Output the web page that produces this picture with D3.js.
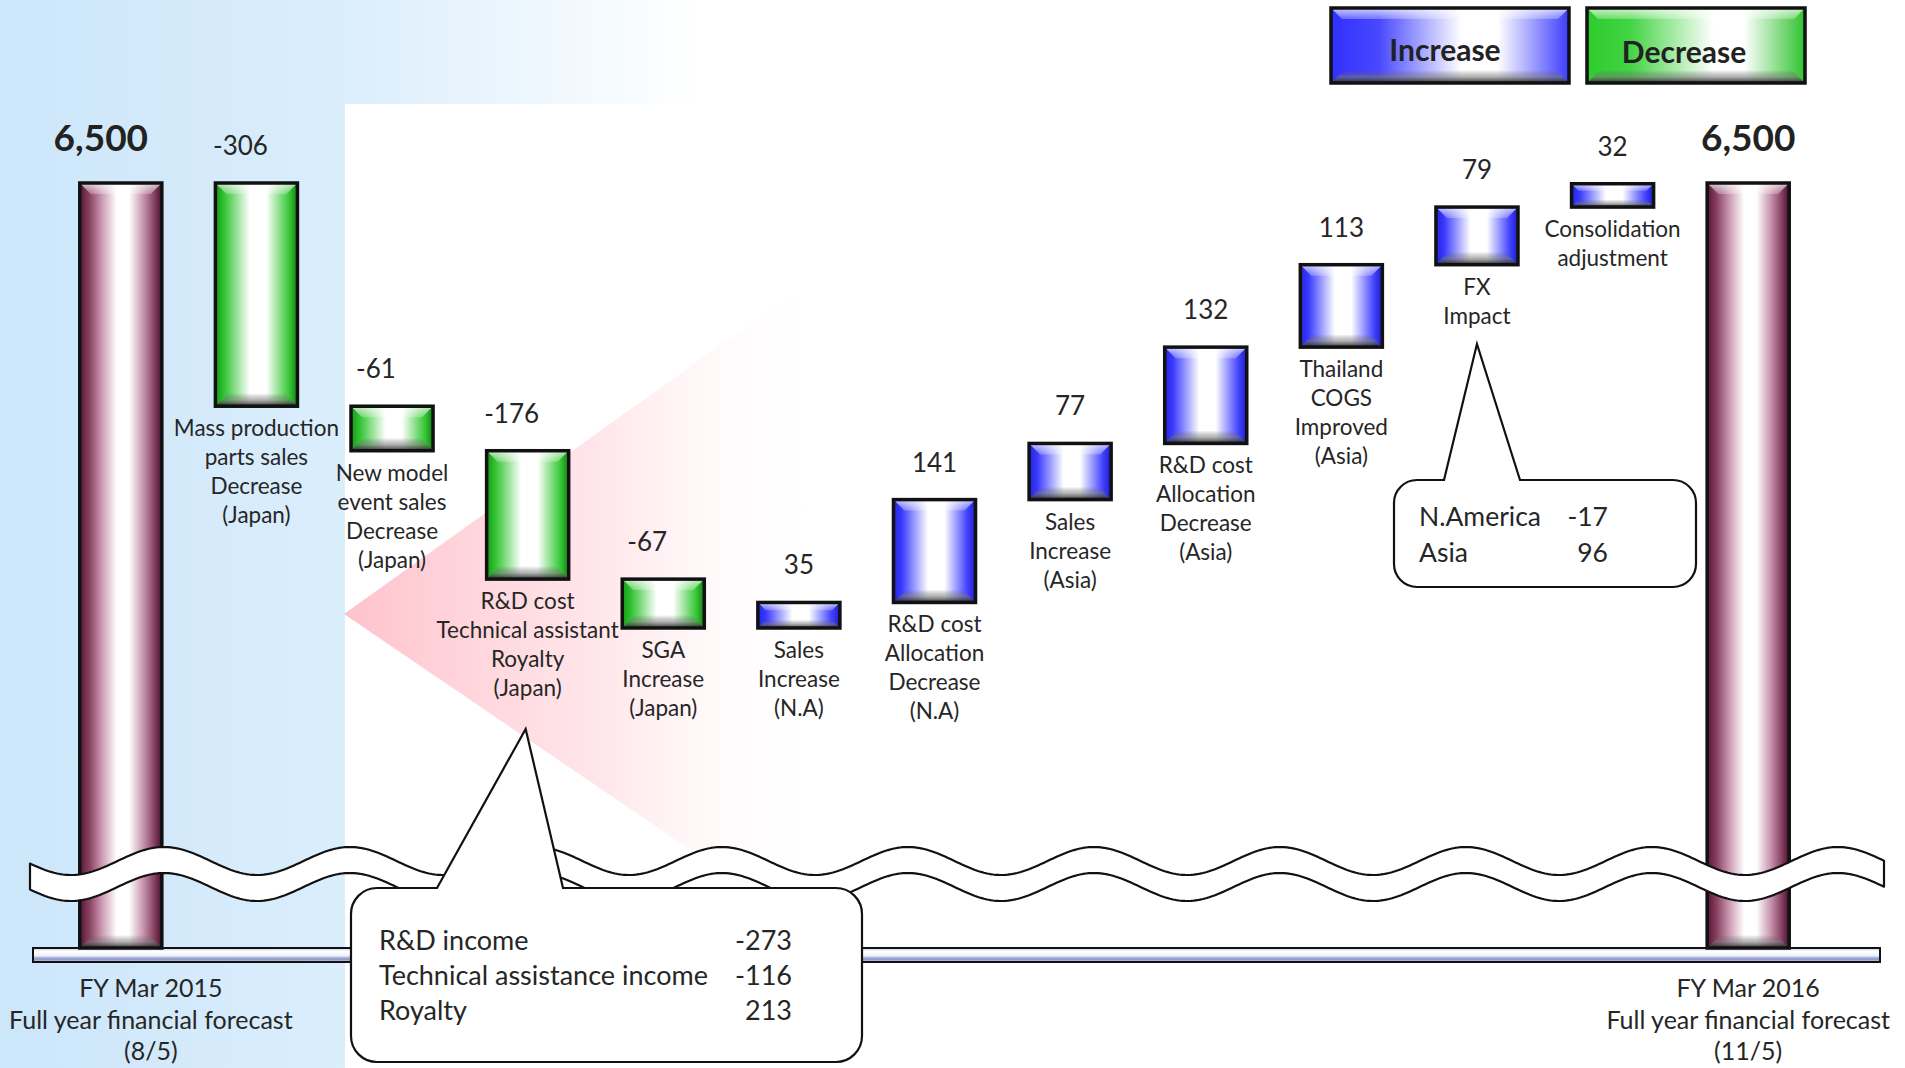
<!DOCTYPE html>
<html>
<head>
<meta charset="utf-8">
<script src="https://cdn.jsdelivr.net/npm/d3@7"></script>
<style>
  body { margin: 0; background: #fff; }
  svg { display: block; font-family: Lato, "Open Sans", sans-serif; }
</style>
</head>
<body>
<svg id="chart"></svg>
<script>
// ---- data ----
const startTotal = 6500;
const endTotal = 6500;
const stepValues = [-306, -61, -176, -67, 35, 141, 77, 132, 113, 79, 32];
const stepLabels = [
    ["Mass production", "parts sales", "Decrease", "(Japan)"],
    ["New model", "event sales", "Decrease", "(Japan)"],
    ["R&D cost", "Technical assistant", "Royalty", "(Japan)"],
    ["SGA", "Increase", "(Japan)"],
    ["Sales", "Increase", "(N.A)"],
    ["R&D cost", "Allocation", "Decrease", "(N.A)"],
    ["Sales", "Increase", "(Asia)"],
    ["R&D cost", "Allocation", "Decrease", "(Asia)"],
    ["Thailand", "COGS", "Improved", "(Asia)"],
    ["FX", "Impact"],
    ["Consolidation", "adjustment"]
];
const startCaption = ["FY Mar 2015", "Full year financial forecast", "(8/5)"];
const endCaption = ["FY Mar 2016", "Full year financial forecast", "(11/5)"];
const rdItems = ["R&D income", "Technical assistance income", "Royalty"];
const rdValues = [-273, -116, 213];
const fxItems = ["N.America", "Asia"];
const fxValues = [-17, 96];
const legendLabels = ["Increase", "Decrease"];

// ---- layout ----
const W = 1905, H = 1068;
const floorY = 948;

var svg = d3.select("#chart").attr("width", W).attr("height", H);
var defs = svg.append("defs");

function hGrad(id, stops) {
    var g = defs.append("linearGradient").attr("id", id)
        .attr("x1", 0).attr("x2", 1).attr("y1", 0).attr("y2", 0);
    stops.forEach(s => g.append("stop").attr("offset", s[0]).attr("stop-color", s[1])
        .attr("stop-opacity", s[2] == null ? 1 : s[2]));
}
function vGrad(id, stops) {
    var g = defs.append("linearGradient").attr("id", id)
        .attr("x1", 0).attr("x2", 0).attr("y1", 0).attr("y2", 1);
    stops.forEach(s => g.append("stop").attr("offset", s[0]).attr("stop-color", s[1])
        .attr("stop-opacity", s[2] == null ? 1 : s[2]));
}

hGrad("bgBlue", [[0, "#cce6fa"], [0.5, "#dbeefc"], [1, "#ffffff"]]);
hGrad("pinkFan", [[0, "#ffc2cb", 1], [0.55, "#ffe1e6", 0.8], [1, "#ffffff", 0]]);
hGrad("gBlue", [[0, "#2424e0"], [0.1, "#3a3aff"], [0.42, "#ffffff"], [0.62, "#ffffff"], [0.9, "#4242ff"], [1, "#1c1cc8"]]);
hGrad("gGreen", [[0, "#1a961a"], [0.1, "#2ec22e"], [0.42, "#ffffff"], [0.62, "#ffffff"], [0.9, "#36c836"], [1, "#168016"]]);
hGrad("gPink", [[0, "#581637"], [0.12, "#8a4263"], [0.27, "#cc9ab2"], [0.45, "#ffffff"], [0.6, "#ffffff"], [0.78, "#c690aa"], [0.92, "#7e3a5a"], [1, "#46102d"]]);
hGrad("gBlueLeg", [[0, "#3030ff"], [0.2, "#4848ff"], [0.55, "#ffffff"], [0.7, "#ffffff"], [1, "#3c3cff"]]);
hGrad("gGreenLeg", [[0, "#2ccc2c"], [0.2, "#44d444"], [0.58, "#ffffff"], [0.72, "#ffffff"], [1, "#2ec22e"]]);
vGrad("topHi", [[0, "#ffffff", 0.75], [1, "#ffffff", 0.25]]);
vGrad("botSh", [[0, "#555555", 0], [0.5, "#777777", 0.55], [1, "#222222", 0.95]]);
vGrad("platform", [[0, "#c4cce6"], [0.25, "#ffffff"], [0.55, "#eef1fa"], [0.78, "#8793c6"], [1, "#c8d0ea"]]);

// background
svg.append("rect").attr("width", 700).attr("height", H).attr("fill", "url(#bgBlue)");
svg.append("rect").attr("x", 345).attr("y", 104).attr("width", W - 345).attr("height", H - 104).attr("fill", "#fff");

// scales
var keys = ["start"].concat(stepValues.map((d, i) => "s" + i), ["end"]);
var x = d3.scaleBand().domain(keys).range([53, 1816]).paddingInner(0.395).paddingOuter(0.1975);
var y = d3.scaleLinear().domain([5890, 6500]).range([628, 183]);

// running totals
var rows = [];
var run = startTotal;
rows.push({ key: "start", kind: "total", top: startTotal, bottom: null, value: startTotal });
stepValues.forEach(function (v, i) {
    var from = run;
    run += v;
    rows.push({ key: "s" + i, kind: v < 0 ? "dec" : "inc", top: Math.max(from, run), bottom: Math.min(from, run), value: v, label: stepLabels[i] });
});
rows.push({ key: "end", kind: "total", top: endTotal, bottom: null, value: endTotal });

// spotlight fan behind the R&D bar
var fanX = 344, fanY = 614;
svg.append("path")
    .attr("d", `M${fanX},${fanY}L820,274L820,938Z`)
    .attr("fill", "url(#pinkFan)");

// platform
svg.append("rect").attr("x", 33).attr("y", floorY).attr("width", 1847).attr("height", 14)
    .attr("fill", "url(#platform)").attr("stroke", "#111").attr("stroke-width", 2);

function bevelBox(g, bx, by, bw, bh, fill) {
    var b = Math.min(11, bh * 0.3);
    g.append("rect").attr("x", bx).attr("y", by).attr("width", bw).attr("height", bh).attr("fill", fill);
    g.append("path")
        .attr("d", `M${bx},${by}L${bx + bw},${by}L${bx + bw - b},${by + b}L${bx + b},${by + b}Z`)
        .attr("fill", "url(#topHi)");
    var s = Math.min(13, bh * 0.32);
    g.append("path")
        .attr("d", `M${bx + s},${by + bh - s}L${bx + bw - s},${by + bh - s}L${bx + bw},${by + bh}L${bx},${by + bh}Z`)
        .attr("fill", "url(#botSh)");
    g.append("rect").attr("x", bx).attr("y", by).attr("width", bw).attr("height", bh)
        .attr("fill", "none").attr("stroke", "#111").attr("stroke-width", 3.5);
}

var fills = { total: "url(#gPink)", inc: "url(#gBlue)", dec: "url(#gGreen)" };
var barG = svg.append("g");
rows.forEach(function (d) {
    var top = y(d.top);
    var bottom = d.kind == "total" ? floorY : y(d.bottom);
    bevelBox(barG.append("g"), x(d.key), top, x.bandwidth(), bottom - top, fills[d.kind]);
});

// axis break band
var waveTop = function (px) { return 861 - 14 * Math.cos(2 * Math.PI * (px - 164) / 186); };
var xs = d3.range(30, 1887, 3);
var upper = xs.map(px => [px, waveTop(px)]);
var lower = xs.slice().reverse().map(px => [px, waveTop(px) + 26]);
svg.append("path")
    .attr("d", d3.line()(upper.concat(lower)) + "Z")
    .attr("fill", "#fff").attr("stroke", "#111").attr("stroke-width", 2.2).attr("stroke-linejoin", "round");

// value labels (plain hyphen for minus, thousands comma for totals)
var fmt = d3.formatLocale({ decimal: ".", thousands: ",", grouping: [3], currency: ["", ""], minus: "-" }).format(",");
svg.append("g").selectAll("text")
    .data(rows)
    .join("text")
    .attr("x", d => x(d.key) + x.bandwidth() / 2)
    .attr("dx", d => d.key == "start" ? -20 : (d.value < 0 ? -16 : 0))
    .attr("y", d => y(d.top) - (d.kind == "total" ? 32 : 28))
    .attr("text-anchor", "middle")
    .attr("fill", d => d.kind == "total" ? "#222" : "#262626")
    .style("font-size", d => d.kind == "total" ? "37px" : "26px")
    .style("font-weight", d => d.kind == "total" ? "bold" : "normal")
    .text(d => fmt(d.value));

// category labels under each step
var catG = svg.append("g").style("font-size", "22.5px").attr("fill", "#262626");
rows.filter(d => d.kind != "total").forEach(function (d) {
    var t = catG.append("text")
        .attr("text-anchor", "middle")
        .attr("y", y(d.bottom) + 30);
    d.label.forEach(function (line, i) {
        t.append("tspan").attr("x", x(d.key) + x.bandwidth() / 2).attr("dy", i ? 29 : 0).text(line);
    });
});

// captions under the totals, kept inside the page
function caption(lines, key) {
    var cx = x(key) + x.bandwidth() / 2;
    var t = svg.append("text").attr("text-anchor", "middle").attr("y", 997)
        .style("font-size", "25px").attr("fill", "#262626");
    lines.forEach(function (line, i) {
        t.append("tspan").attr("x", cx).attr("dy", i ? 31.5 : 0).text(line);
    });
    var w = t.node().getBBox().width;
    cx = Math.max(w / 2 + 9, Math.min(W - w / 2 - 14, cx));
    t.selectAll("tspan").attr("x", cx);
}
caption(startCaption, "start");
caption(endCaption, "end");

// callout bubbles
function bubble(bx, by, bw, bh, r, tipX, tipY, baseL, baseR) {
    var p = d3.path();
    p.moveTo(baseL, by);
    p.lineTo(tipX, tipY);
    p.lineTo(baseR, by);
    p.lineTo(bx + bw - r, by);
    p.arcTo(bx + bw, by, bx + bw, by + r, r);
    p.lineTo(bx + bw, by + bh - r);
    p.arcTo(bx + bw, by + bh, bx + bw - r, by + bh, r);
    p.lineTo(bx + r, by + bh);
    p.arcTo(bx, by + bh, bx, by + bh - r, r);
    p.lineTo(bx, by + r);
    p.arcTo(bx, by, bx + r, by, r);
    p.closePath();
    svg.append("path").attr("d", p.toString())
        .attr("fill", "#fff").attr("stroke", "#111").attr("stroke-width", 2.2);
}

var rdX = x("s2") + x.bandwidth() / 2;
bubble(351, 888, 511, 174, 26, rdX - 2, 729, 437, 563);
var rdG = svg.append("g").style("font-size", "27px").attr("fill", "#262626");
rdItems.forEach(function (name, i) {
    rdG.append("text").attr("x", 379).attr("y", 950 + i * 35).text(name);
    rdG.append("text").attr("x", 792).attr("y", 950 + i * 35).attr("text-anchor", "end").text(fmt(rdValues[i]));
});

var fxX = x("s9") + x.bandwidth() / 2;
bubble(1394, 480, 302, 107, 23, fxX, 344, 1444, 1520);
var fxG = svg.append("g").style("font-size", "26.5px").attr("fill", "#262626");
fxItems.forEach(function (name, i) {
    fxG.append("text").attr("x", 1419).attr("y", 526 + i * 36).text(name);
    fxG.append("text").attr("x", 1608).attr("y", 526 + i * 36).attr("text-anchor", "end").text(fmt(fxValues[i]));
});

// legend
var legX = [1331, 1587], legW = [238, 218];
var legFill = ["url(#gBlueLeg)", "url(#gGreenLeg)"];
legendLabels.forEach(function (name, i) {
    var g = svg.append("g");
    bevelBox(g, legX[i], 8, legW[i], 75, legFill[i]);
    g.append("text").attr("x", legX[i] + legW[i] / 2 - (i ? 12 : 5)).attr("y", i ? 63 : 61)
        .attr("text-anchor", "middle").style("font-size", "30px").style("font-weight", "bold")
        .attr("fill", "#222").text(name);
});
</script>
</body>
</html>
